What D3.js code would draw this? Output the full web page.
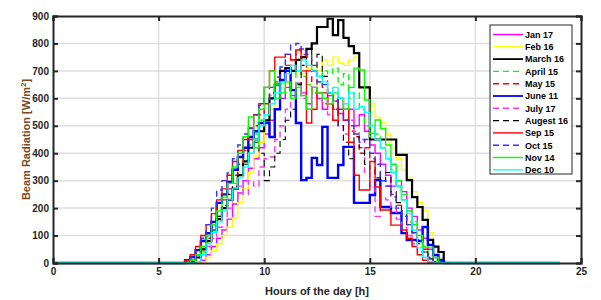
<!DOCTYPE html>
<html>
<head>
<meta charset="utf-8">
<script src="https://d3js.org/d3.v7.min.js"></script>
<style>
  body { margin: 0; background: #fff; }
  text { font-family: "Liberation Sans", Arial, sans-serif; font-weight: bold; }
</style>
</head>
<body>
<div id="vis"></div>
<script>
// series values, W/m2, 15 minute steps (one row per hour of samples)
var firstHour = 5.75, stepHours = 0.25;
var jan17 = [
  0,0,0,0,  0,10,30,60,  90,120,160,215,  255,300,345,380,  420,470,520,560,
  600,640,610,655,  620,580,640,600,  560,610,590,545,  520,560,500,540,
  480,430,400,360,  320,280,300,260,  200,170,120,90,  50,20,5,0,  0,0,0,0];
var feb16 = [
  0,0,0,0,  0,5,20,45,  70,100,130,165,  220,270,330,390,  440,500,560,600,
  640,660,690,700,  690,710,720,700,  740,720,750,730,  720,740,750,700,
  640,580,530,510,  470,420,380,340,  310,260,220,190,  110,60,20,5,  0,0,0,0];
var march16 = [
  0,0,0,5,  20,50,80,120,  160,200,230,270,  320,370,420,450,  480,520,600,650,
  700,710,700,740,  750,780,800,860,  860,890,830,885,  820,790,765,640,
  640,450,450,450,  450,450,394,394,  302,240,204,157,  84,60,40,0,  0,0,0,0];
var april15 = [
  0,0,0,0,  10,40,80,120,  170,210,250,290,  330,380,430,470,  520,560,610,650,
  660,620,640,700,  680,650,620,660,  700,690,710,650,  690,600,620,560,
  500,460,470,420,  380,340,300,250,  190,150,100,60,  30,10,0,0,  0,0,0,0];
var may15 = [
  0,0,0,10,  30,60,100,140,  190,230,270,320,  360,410,450,500,  540,580,620,660,
  690,720,740,780,  760,700,620,680,  640,580,560,600,  520,480,460,400,
  420,380,330,300,  280,250,210,170,  150,110,80,50,  20,5,0,0,  0,0,0,0];
var june11 = [
  0,0,10,22,  47,80,109,150,  219,250,295,340,  386,420,459,480,  510,510,459,560,
  667,700,630,510,  302,310,383,357,  496,310,310,357,  423,423,219,219,
  219,248,302,204,  204,182,182,109,  84,84,80,131,  66,29,11,0,  0,0,0,0];
var july17 = [
  0,0,0,0,  10,30,60,90,  130,170,200,240,  280,250,300,280,  350,380,386,450,
  500,560,620,650,  600,560,620,600,  580,540,520,500,  470,520,480,450,
  330,280,170,240,  230,200,160,130,  100,70,40,20,  5,0,0,0,  0,0,0,0];
var august16 = [
  0,0,0,5,  20,50,90,130,  170,210,250,280,  320,360,400,440,  400,300,350,400,
  450,520,560,650,  720,780,700,760,  680,620,560,500,  440,380,460,420,
  360,340,310,300,  330,260,220,190,  140,110,70,40,  15,0,0,0,  0,0,0,0];
var sep15 = [
  0,0,10,30,  60,100,140,180,  230,270,320,370,  410,450,490,540,  580,640,700,750,
  750,760,740,776,  700,510,560,620,  620,580,520,600,  560,440,320,266,
  266,370,277,193,  193,138,138,120,  90,60,30,10,  0,0,0,0,  0,0,0,0];
var oct15 = [
  0,0,5,20,  50,90,140,200,  266,300,328,380,  430,470,492,540,  575,600,640,678,
  714,760,794,800,  780,760,720,660,  650,620,590,560,  520,500,470,440,
  450,400,360,300,  280,240,200,170,  140,110,80,40,  20,5,0,0,  0,0,0,0];
var nov14 = [
  0,0,0,10,  30,60,100,140,  190,240,290,350,  400,460,532,420,  560,640,700,600,
  620,660,600,640,  610,560,640,620,  600,580,620,600,  560,640,710,703,
  594,473,521,490,  430,360,280,230,  190,140,100,58,  58,20,0,0,  0,0,0,0];
var dec10 = [
  0,0,0,0,  5,30,70,110,  150,190,230,270,  310,350,400,450,  500,540,580,620,
  660,690,720,700,  740,720,700,680,  660,620,640,600,  580,620,560,570,
  547,500,450,420,  380,330,280,230,  180,120,55,20,  5,0,0,0,  0,0,0,0];

var seriesNames = ["Jan 17", "Feb 16", "March 16", "April 15", "May 15", "June 11",
                   "July 17", "Augest 16", "Sep 15", "Oct 15", "Nov 14", "Dec 10"];
var seriesValues = [jan17, feb16, march16, april15, may15, june11,
                    july17, august16, sep15, oct15, nov14, dec10];
var xTicks = [0, 5, 10, 15, 20, 25];
var yTicks = [0, 100, 200, 300, 400, 500, 600, 700, 800, 900];

// look of each line: colour, dash, width
var styles = [
  { c: "#ff00ff", d: null, w: 1.4 },
  { c: "#ffff00", d: null, w: 1.4 },
  { c: "#000000", d: null, w: 2.2 },
  { c: "#00ff00", d: "6,4", w: 1.4 },
  { c: "#ff0000", d: "6,4", w: 1.4 },
  { c: "#0000ff", d: null, w: 2.4 },
  { c: "#ff33ff", d: "6,4", w: 1.4 },
  { c: "#000000", d: "6,4", w: 1.1 },
  { c: "#ff0000", d: null, w: 1.4 },
  { c: "#3333ff", d: "6,4", w: 1.4 },
  { c: "#00ff00", d: null, w: 1.4 },
  { c: "#00ffff", d: null, w: 1.4 }
];

var W = 601, H = 300;
var margin = { top: 16, right: 20, bottom: 37, left: 53 };
var width = W - margin.left - margin.right,
    height = H - margin.top - margin.bottom;

var svg = d3.select("#vis").append("svg")
    .attr("width", W).attr("height", H);
var g = svg.append("g")
    .attr("transform", "translate(" + margin.left + "," + margin.top + ")");

var x = d3.scaleLinear().domain([0, 25]).range([0, width]);
var y = d3.scaleLinear().domain([0, 900]).range([height, 0]);

// grid
g.append("g").selectAll("line").data(yTicks.slice(1, -1)).enter().append("line")
    .attr("x1", 0).attr("x2", width)
    .attr("y1", function (d) { return y(d); }).attr("y2", function (d) { return y(d); })
    .attr("stroke", "#dedede").attr("stroke-width", 1.5);
g.append("g").selectAll("line").data(xTicks.slice(1, -1)).enter().append("line")
    .attr("y1", 0).attr("y2", height)
    .attr("x1", function (d) { return x(d); }).attr("x2", function (d) { return x(d); })
    .attr("stroke", "#dedede").attr("stroke-width", 1.5);

// lines
var line = d3.line()
    .x(function (d) { return x(d[0]); })
    .y(function (d) { return y(d[1]); })
    .curve(d3.curveStepAfter);

seriesValues.forEach(function (vals, i) {
  var pts = [[0, 0]];
  vals.forEach(function (v, k) { pts.push([firstHour + k * stepHours, v]); });
  pts.push([24, 0]);
  g.append("path")
      .attr("d", line(pts))
      .attr("fill", "none")
      .attr("stroke", styles[i].c)
      .attr("stroke-width", styles[i].w)
      .attr("stroke-dasharray", styles[i].d);
});

// axes
g.append("g")
    .attr("transform", "translate(0," + height + ")")
    .call(d3.axisBottom(x).tickValues(xTicks).tickSize(-5).tickPadding(5));
g.append("g")
    .call(d3.axisLeft(y).tickValues(yTicks).tickSize(-5).tickPadding(4));
g.append("g").attr("transform", "translate(" + width + ",0)")
    .call(d3.axisRight(y).tickValues(yTicks).tickSize(-5).tickFormat(""));
g.append("g")
    .call(d3.axisTop(x).tickValues(xTicks).tickSize(-5).tickFormat(""));

g.selectAll(".domain").attr("stroke", "#262626").attr("stroke-width", 2);
g.selectAll(".tick line").attr("stroke", "#262626").attr("stroke-width", 2);
g.selectAll(".tick text")
    .attr("fill", "#262626")
    .style("font-size", "10px")
    .style("font-weight", "bold")
    .style("font-family", "'Liberation Sans', Arial, sans-serif");

// axis titles
svg.append("text")
    .attr("x", margin.left + width / 2)
    .attr("y", 295)
    .attr("text-anchor", "middle")
    .attr("fill", "#262626")
    .style("font-size", "11px")
    .text("Hours of the day [h]");

var yl = svg.append("text")
    .attr("transform", "translate(30," + (margin.top + height / 2) + ") rotate(-90)")
    .attr("text-anchor", "middle")
    .attr("fill", "#7a4a22")
    .style("font-size", "11px");
yl.append("tspan").text("Beam Radiation [W/m");
yl.append("tspan").attr("dy", -4).style("font-size", "8px").text("2");
yl.append("tspan").attr("dy", 4).text("]");

// legend
var lg = svg.append("g").attr("transform", "translate(490,25)");
lg.append("rect").attr("width", 82).attr("height", 149)
    .attr("fill", "#fff").attr("stroke", "#262626").attr("stroke-width", 1);
seriesNames.forEach(function (name, i) {
  var yy = 9.5 + i * 12.3;
  lg.append("line").attr("x1", 3).attr("x2", 33).attr("y1", yy).attr("y2", yy)
      .attr("stroke", styles[i].c)
      .attr("stroke-width", Math.min(styles[i].w, 1.8))
      .attr("stroke-dasharray", styles[i].d);
  lg.append("text").attr("x", 35).attr("y", yy + 3.3)
      .attr("fill", "#000")
      .style("font-size", "9px")
      .text(name);
});
</script>
</body>
</html>
